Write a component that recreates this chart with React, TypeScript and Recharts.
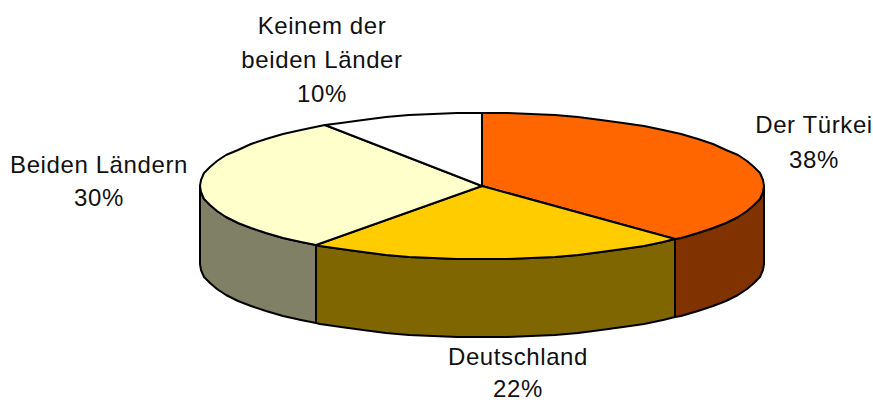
import { Pie, PieChart } from "recharts"

const categories = ["Der Türkei", "Deutschland", "Beiden Ländern", "Keinem der beiden Länder"]
const shares = [38, 22, 30.6, 9.4]
const shareLabels = ["38%", "22%", "30%", "10%"]
const topColors = ["#FF6600", "#FFCC00", "#FFFFCC", "#FFFFFF"]
const sideColors = ["#803300", "#806600", "#808066", "#808080"]

const labelLines = [["Der Türkei"], ["Deutschland"], ["Beiden Ländern"], ["Keinem der", "beiden Länder"]]
const labelBoxes = [
  { x: 814, y: 133, gap: 35 },
  { x: 518, y: 365, gap: 32 },
  { x: 99, y: 173, gap: 33 },
  { x: 322, y: 34, gap: 34 },
]

const WIDTH = 873
const HEIGHT = 400
const CX = 482
const CY = 186
const RX = 282
const RY = 73
const DEPTH = 78
const STEP = 5

const topRows = categories.map((name, i) => ({ name, value: shares[i], fill: topColors[i] }))
const wallRows = categories.map((name, i) => ({ name, value: shares[i], fill: sideColors[i] }))

// recharts only knows circles, so squash each sector's angles onto an ellipse
const onEllipse = (deg: number) => {
  const rad = (deg * Math.PI) / 180
  return [Math.round(CX + RX * Math.cos(rad)), Math.round(CY - RY * Math.sin(rad))]
}

// the rim is a coarse polyline, the reference has the same faceted edge
const rimPoints = (from: number, to: number) => {
  const pts = [onEllipse(from)]
  for (let deg = Math.ceil(from / STEP) * STEP - STEP; deg > to; deg -= STEP) {
    pts.push(onEllipse(deg))
  }
  pts.push(onEllipse(to))
  return pts
}

const toPath = (pts: number[][]) => pts.map((p, i) => `${i ? "L" : "M"}${p[0]},${p[1]}`).join(" ") + " Z"

function TopSlice(props: any) {
  const { startAngle, endAngle, fill } = props
  const d = toPath([[CX, CY], ...rimPoints(startAngle, endAngle)])
  return <path d={d} fill={fill} stroke="#000" strokeWidth={2} strokeLinejoin="round" />
}

function WallSlice(props: any) {
  const { fill } = props
  // only the front half of the rim is visible
  const start = Math.min(props.startAngle, 0)
  const end = Math.max(props.endAngle, -180)
  if (start <= end) return <g />
  const rim = rimPoints(start, end)
  const bottom = rim.map((p) => [p[0], p[1] + DEPTH]).reverse()
  return <path d={toPath([...rim, ...bottom])} fill={fill} stroke="#000" strokeWidth={2} strokeLinejoin="round" />
}

function SliceLabel({ index }: any) {
  const box = labelBoxes[index]
  const lines = [...labelLines[index], shareLabels[index]]
  return (
    <text
      x={box.x}
      y={box.y}
      textAnchor="middle"
      fill="#111"
      fontFamily="Liberation Sans, Arial, sans-serif"
      fontSize={24}
      letterSpacing={0.6}
    >
      {lines.map((line, i) => (
        <tspan key={line} x={box.x} y={box.y + i * box.gap}>
          {line}
        </tspan>
      ))}
    </text>
  )
}

export default function App() {
  return (
    <div style={{ position: "absolute", left: 0, top: 0, width: WIDTH, height: HEIGHT }}>
      <PieChart width={WIDTH} height={HEIGHT} margin={{ top: 0, right: 0, bottom: 0, left: 0 }}>
        <Pie
          data={wallRows}
          dataKey="value"
          nameKey="name"
          cx={CX}
          cy={CY}
          outerRadius={RX}
          startAngle={90}
          endAngle={-270}
          shape={WallSlice}
          isAnimationActive={false}
        />
        <Pie
          data={topRows}
          dataKey="value"
          nameKey="name"
          cx={CX}
          cy={CY}
          outerRadius={RX}
          startAngle={90}
          endAngle={-270}
          shape={TopSlice}
          label={SliceLabel}
          labelLine={false}
          isAnimationActive={false}
        />
      </PieChart>
    </div>
  )
}
